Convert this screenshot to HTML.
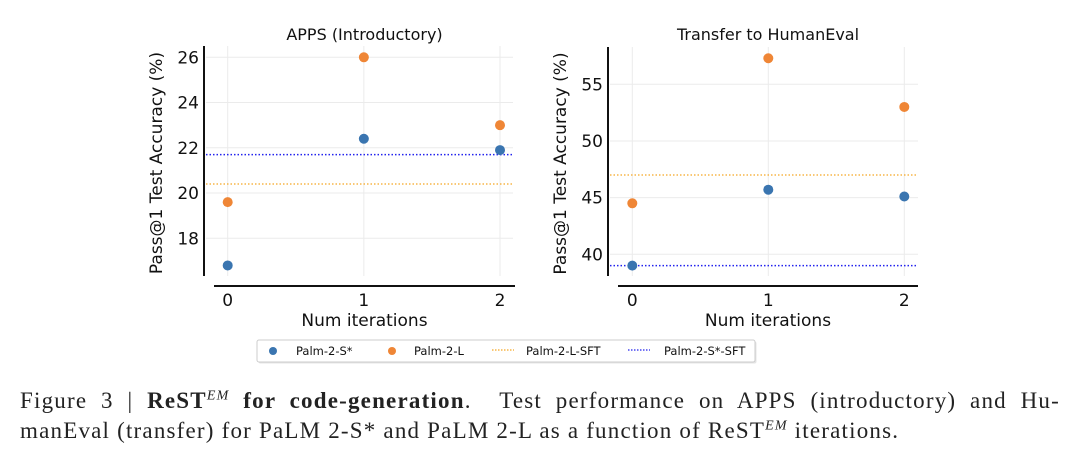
<!DOCTYPE html>
<html><head><meta charset="utf-8"><style>
body{margin:0;background:#fff;width:1080px;height:455px;overflow:hidden}
svg{display:block}
.cap{position:absolute;left:20px;font-family:"Liberation Serif",serif;font-size:23px;letter-spacing:1.2px;color:#222;text-align:justify;text-align-last:justify;white-space:nowrap}
</style></head><body>
<div style="position:relative;width:1080px;height:455px">
<svg id="chart" width="1080" height="455" font-family="DejaVu Sans, Liberation Sans, sans-serif"></svg>
<div class="cap" style="top:388px;width:1040px">Figure 3 | <b>ReST<sup style="font-size:14px;font-style:italic;font-weight:normal">EM</sup> for code-generation</b>. &nbsp;Test performance on APPS (introductory) and Hu-</div>
<div class="cap" style="top:418px;width:865px">manEval (transfer) for PaLM 2-S* and PaLM 2-L as a function of ReST<sup style="font-size:14px;font-style:italic">EM</sup> iterations.</div>
</div>
<script>
const iterations=[0,1,2];
const appsSmall=[16.8,22.4,21.9];
const appsLarge=[19.6,26.0,23.0];
const appsLargeSFT=20.4;
const appsSmallSFT=21.7;
const appsTicks=[18,20,22,24,26];
const heSmall=[39.0,45.7,45.1];
const heLarge=[44.5,57.3,53.0];
const heLargeSFT=47.0;
const heSmallSFT=39.0;
const heTicks=[40,45,50,55];

const NS="http://www.w3.org/2000/svg";
const svg=document.getElementById('chart');
function mk(t,a,p){const e=document.createElementNS(NS,t);for(const k in a)e.setAttribute(k,a[k]);(p||svg).appendChild(e);return e;}
const BLUE="#3a75b0",ORANGE="#ef8636";

function panel(o){
  const g=mk('g',{});
  
  
  const xs=i=>o.x0+(i-iterations[0])*(o.x1-o.x0)/(iterations[iterations.length-1]-iterations[0]);
  const ys=v=>o.yA+(v-o.vA)*(o.yB-o.yA)/(o.vB-o.vA);
  o.ticks.forEach(t=>{const l=mk('line',{x1:o.sx+2,x2:o.gx2,y1:ys(t),y2:ys(t),stroke:'#ebebeb','stroke-width':1},g);
    });
  iterations.forEach(i=>{const l=mk('line',{x1:xs(i),x2:xs(i),y1:o.top,y2:o.bot,stroke:'#ebebeb','stroke-width':1},g);
    });
  const ys1=mk('line',{x1:o.sx,x2:o.sx,y1:o.top,y2:o.bot,stroke:'#111','stroke-width':2},g);
  
  const xs1=mk('line',{x1:o.xsx1,x2:o.xsx2,y1:286,y2:286,stroke:'#111','stroke-width':2},g);
  
  o.ticks.forEach(t=>{const e=mk('text',{x:o.sx-5,y:ys(t)+6,'text-anchor':'end','font-size':17,fill:'#111'},g);e.textContent=t;
    });
  iterations.forEach(i=>{const e=mk('text',{x:xs(i),y:306,'text-anchor':'middle','font-size':17,fill:'#111'},g);e.textContent=i;
    });
  let e=mk('text',{x:(o.xsx1+o.xsx2)/2,y:40,'text-anchor':'middle','font-size':16,fill:'#111'},g);e.textContent=o.title;
  
  e=mk('text',{x:(o.xsx1+o.xsx2)/2,y:326,'text-anchor':'middle','font-size':17,fill:'#111'},g);e.textContent='Num iterations';
  
  const cy=(o.top+o.bot)/2+2;
  e=mk('text',{x:o.ytx,y:cy,'text-anchor':'middle','font-size':17,fill:'#111',transform:`rotate(-90 ${o.ytx} ${cy})`},g);e.textContent='Pass@1 Test Accuracy (%)';
  
  e=mk('line',{x1:o.sx+2,x2:o.gx2,y1:ys(o.lsft),y2:ys(o.lsft),stroke:'#f5a623','stroke-width':1.3,'stroke-dasharray':'1.5 2'},g);
  
  e=mk('line',{x1:o.sx+2,x2:o.gx2,y1:ys(o.ssft),y2:ys(o.ssft),stroke:'#2222ee','stroke-width':1.5,'stroke-dasharray':'1.5 2'},g);
  
  iterations.forEach((it,k)=>{
    let c=mk('circle',{cx:xs(it),cy:ys(o.large[k]),r:5,fill:ORANGE},g);
    
    c=mk('circle',{cx:xs(it),cy:ys(o.small[k]),r:5,fill:BLUE},g);
    
  });
}
panel({name:'apps-panel',title:'APPS (Introductory)',x0:227.7,x1:500,yA:57.3,vA:26,yB:238.3,vB:18,
  sx:204,top:46,bot:276,gx2:513,xsx1:214,xsx2:515,ytx:162,ticks:appsTicks,small:appsSmall,large:appsLarge,lsft:appsLargeSFT,ssft:appsSmallSFT});
panel({name:'humaneval-panel',title:'Transfer to HumanEval',x0:632.3,x1:904.3,yA:84.3,vA:55,yB:254.3,vB:40,
  sx:608,top:47,bot:276,gx2:918,xsx1:618,xsx2:918,ytx:566,ticks:heTicks,small:heSmall,large:heLarge,lsft:heLargeSFT,ssft:heSmallSFT});

const lg=mk('g',{});


mk('rect',{x:258.5,y:341.5,width:498,height:22,fill:'#e4e4e4',rx:2},lg);
mk('rect',{x:257,y:340,width:498,height:22,fill:'#fff',stroke:'#ccc','stroke-width':1,rx:2},lg);
const items=[['dot',BLUE,'Palm-2-S*',273,296],['dot',ORANGE,'Palm-2-L',392,414],['line','#f5a623','Palm-2-L-SFT',492,526],['line','#2222ee','Palm-2-S*-SFT',628,664]];
items.forEach(([k,c,t,x,tx])=>{
  const ig=mk('g',{},lg);
  
  
  if(k==='dot')mk('circle',{cx:x,cy:351,r:4,fill:c},ig);
  else mk('line',{x1:x,x2:x+22,y1:350,y2:350,stroke:c,'stroke-width':1.2,'stroke-dasharray':'1.5 1.5'},ig);
  const e=mk('text',{x:tx,y:355,'font-size':11.5,fill:'#111'},ig);e.textContent=t;
});
</script>
</body></html>
